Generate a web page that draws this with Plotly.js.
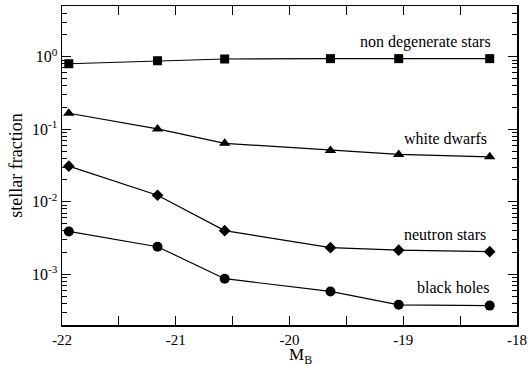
<!DOCTYPE html>
<html><head><meta charset="utf-8">
<script src="https://cdn.plot.ly/plotly-3.0.1.min.js"></script>
<style>html,body{margin:0;padding:0;background:#fff}</style>
</head><body>
<div id="chart" style="width:532px;height:366px"></div>
<script>
const magB = [-21.94, -21.16, -20.57, -19.64, -19.04, -18.24];
const nonDegenerate = [0.80, 0.88, 0.93, 0.94, 0.94, 0.94];
const whiteDwarfs = [0.166, 0.101, 0.064, 0.051, 0.045, 0.0417];
const neutronStars = [0.031, 0.0123, 0.0040, 0.00233, 0.00215, 0.00205];
const blackHoles = [0.0039, 0.0024, 0.00087, 0.00058, 0.00038, 0.00037];
const seriesNames = ['non degenerate stars', 'white dwarfs', 'neutron stars', 'black holes'];
const xTickVals = [-22, -21, -20, -19, -18];
const xTickText = ['-22', '-21', '-20', '-19', '-18'];
const yTickVals = [0.001, 0.01, 0.1, 1];
const yTickText = ['10<sup>-3</sup>', '10<sup>-2</sup>', '10<sup>-1</sup>', '10<sup>0</sup>'];

const FONT = "'Liberation Serif', 'Times New Roman', serif";
const yMinorVals = [];
[1e-4, 1e-3, 1e-2, 1e-1, 1].forEach(d => { for (let k = 2; k <= 9; k++) yMinorVals.push(d * k); });

const symbols = ['square', 'triangle-up', 'diamond', 'circle'];
const sizes = [9, 10, 9, 10];
const allY = [nonDegenerate, whiteDwarfs, neutronStars, blackHoles];
const traces = allY.map((y, i) => ({
  x: magB, y: y, name: seriesNames[i], mode: 'lines+markers', type: 'scatter',
  line: {color: '#000', width: 1.2},
  marker: {symbol: symbols[i], size: sizes[i], color: '#000'},
  showlegend: false
}));

const labelPos = [[0.947, 0.887], [0.938, 0.586], [0.936, 0.285], [0.943, 0.116]];
const annotations = seriesNames.map((t, i) => ({
  text: t, xref: 'paper', yref: 'paper', x: labelPos[i][0], y: labelPos[i][1],
  xanchor: 'right', yanchor: 'middle', showarrow: false,
  font: {family: FONT, size: 16, color: '#000'}
}));
annotations.push({
  text: 'M<sub>B</sub>', xref: 'paper', yref: 'paper', x: 0.497, y: -0.06,
  xanchor: 'left', yanchor: 'top', showarrow: false, borderpad: 0,
  font: {family: FONT, size: 17, color: '#000'}
});

const layout = {
  width: 532, height: 366,
  margin: {l: 62, r: 15, t: 6, b: 41},
  paper_bgcolor: '#fff', plot_bgcolor: '#fff',
  font: {family: FONT, color: '#000'},
  xaxis: {
    range: [-22, -18], tickmode: 'array', tickvals: xTickVals, ticktext: xTickText,
    ticks: 'inside', ticklen: 9, tickwidth: 1, tickcolor: '#000',
    minor: {dtick: 0.5, tick0: -22, ticks: 'inside', ticklen: 9, tickwidth: 1, tickcolor: '#000', showgrid: false},
    showline: true, linecolor: '#000', linewidth: 1.5, mirror: 'allticks',
    showgrid: false, zeroline: false,
    tickfont: {family: FONT, size: 15, color: '#000'}
  },
  yaxis: {
    type: 'log', range: [Math.log10(2e-4), Math.log10(5)],
    tickmode: 'array', tickvals: yTickVals, ticktext: yTickText,
    ticks: 'inside', ticklen: 9, tickwidth: 1, tickcolor: '#000',
    minor: {tickmode: 'array', tickvals: yMinorVals, ticks: 'inside', ticklen: 5, tickwidth: 1, tickcolor: '#000', showgrid: false},
    showline: true, linecolor: '#000', linewidth: 1.5, mirror: 'allticks',
    showgrid: false, zeroline: false,
    tickfont: {family: FONT, size: 16, color: '#000'},
    title: {text: 'stellar fraction', font: {family: FONT, size: 18, color: '#000'}, standoff: 4}
  },
  annotations: annotations
};
Plotly.newPlot('chart', traces, layout, {displayModeBar: false, staticPlot: true});
</script>
</body></html>
